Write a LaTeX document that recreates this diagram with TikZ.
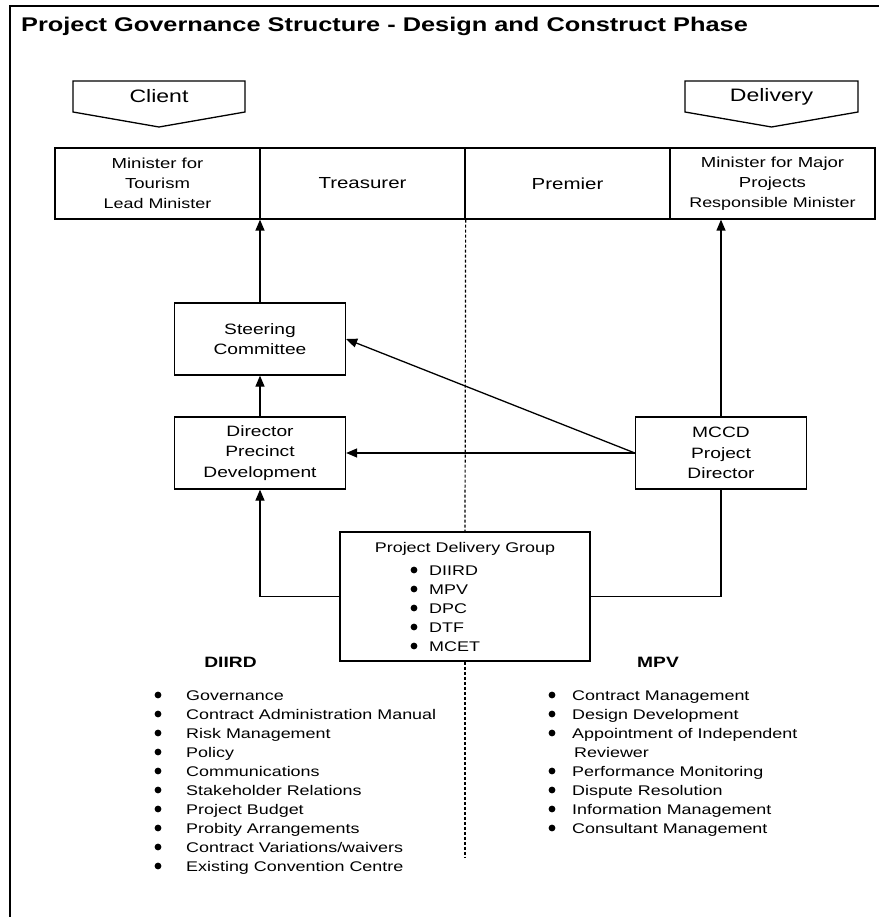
\documentclass[tikz,border=0pt]{standalone}
\usepackage{fontspec}
\setmainfont{Liberation Sans}[FakeStretch=1.28]
\usetikzlibrary{arrows.meta}

\tikzset{
  rowbox/.style={draw, line width=1.3pt, minimum width=205pt, minimum height=71pt,
    inner sep=0pt, align=center, font=\fontsize{14.5}{20}\selectfont},
  govbox/.style={draw, line width=1.3pt, minimum width=171pt, minimum height=72pt,
    inner sep=0pt, align=center, font=\fontsize{15}{20.5}\selectfont},
  tag/.style={inner sep=0pt, font=\fontsize{18}{20}\selectfont},
  item/.style={inner sep=0pt, anchor=base west, font=\fontsize{14}{16}\selectfont},
  head/.style={inner sep=0pt, font=\bfseries\fontsize{15}{16}\selectfont},
  link/.style={line width=1.3pt, -{Triangle[length=11pt,width=9pt]}},
  wire/.style={line width=1.3pt},
  divide/.style={line width=1.2pt, dash pattern=on 3pt off 2pt}
}

\begin{document}
\begin{tikzpicture}[x=1pt, y=-1pt]
  \useasboundingbox (0,0) rectangle (879,917);
  \draw[line width=2.5pt] (10,917) -- (10,6) -- (879,6);
  \node[inner sep=0pt, anchor=base west, font=\bfseries\fontsize{19.8}{22}\selectfont]
    (title) at (21,32) {Project Governance Structure - Design and Construct Phase};

  % client and delivery tags
  \draw[line width=1.3pt] (73,81) -- (245,81) -- (245,112) -- (159,127) -- (73,112) -- cycle;
  \node[tag] (client) at (159,96.5) {Client};
  \draw[line width=1.3pt] (685,81) -- (858,81) -- (858,112) -- (771.5,127) -- (685,112) -- cycle;
  \node[tag] (delivery) at (771.5,96.5) {Delivery};

  % ministers
  \node[rowbox] (tourism) at (157.5,183.5)
    {Minister for\\ Tourism\\ {\fontsize{14}{20}\selectfont Lead Minister}};
  \node[rowbox, font=\fontsize{16}{20}\selectfont] (treasurer) at (362.5,183.5) {Treasurer};
  \node[rowbox, font=\fontsize{16}{20}\selectfont] (premier) at (567.5,183.5) {Premier};
  \node[rowbox] (major) at (772.5,183.5)
    {Minister for Major\\ Projects\\ {\fontsize{14}{20}\selectfont Responsible Minister}};

  \node[govbox] (steering) at (260,339) {Steering\\ Committee};
  \node[govbox] (director) at (260,453) {Director\\ Precinct\\ Development};
  \node[govbox] (mccd) at (721,453) {MCCD\\ Project\\ Director};

  \node[draw, line width=1.3pt, minimum width=250pt, minimum height=129pt] (pdg) at (465,596.5) {};
  \node[inner sep=0pt, anchor=base, font=\fontsize{14}{16}\selectfont] (pdgtitle) at (465,552)
    {Project Delivery Group};
  \foreach \name [count=\i from 0] in {DIIRD, MPV, DPC, DTF, MCET} {
    \fill (414,570+19*\i) circle (3.4);
    \node[item] (pdg\i) at (429,575+19*\i) {\name};
  }

  % connectors
  \draw[link] (steering.north) -- (steering.north |- tourism.south);
  \draw[link] (director.north) -- (steering.south);
  \draw[link] (mccd.north) -- (mccd.north |- major.south);
  \draw[link] (mccd.west) -- (steering.east);
  \draw[link] (mccd.west) -- (director.east);
  \draw[link] (pdg.west) -| (director.south);
  \draw[wire] (pdg.east) -| (mccd.south);

  \coordinate (divend) at (465,857);
  \draw[divide] (treasurer.south east) -- (pdg.north);
  \draw[divide] (pdg.south) -- (divend);

  % responsibilities
  \node[head] (diird) at (230.5,662) {DIIRD};
  \node[head] (mpv) at (658,662) {MPV};
  \foreach \task [count=\i from 0] in {Governance, Contract Administration Manual,
      Risk Management, Policy, Communications, Stakeholder Relations, Project Budget,
      Probity Arrangements, Contract Variations/waivers, Existing Convention Centre} {
    \fill (158,695+19*\i) circle (3.4);
    \node[item] (left\i) at (186,700+19*\i) {\task};
  }
  \foreach \k/\task in {0/Contract Management, 1/Design Development,
      2/Appointment of Independent, 4/Performance Monitoring, 5/Dispute Resolution,
      6/Information Management, 7/Consultant Management} {
    \fill (552,695+19*\k) circle (3.4);
    \node[item] (right\k) at (572,700+19*\k) {\task};
  }
  \node[item] (right3) at (574,757) {Reviewer};
\end{tikzpicture}
\end{document}
